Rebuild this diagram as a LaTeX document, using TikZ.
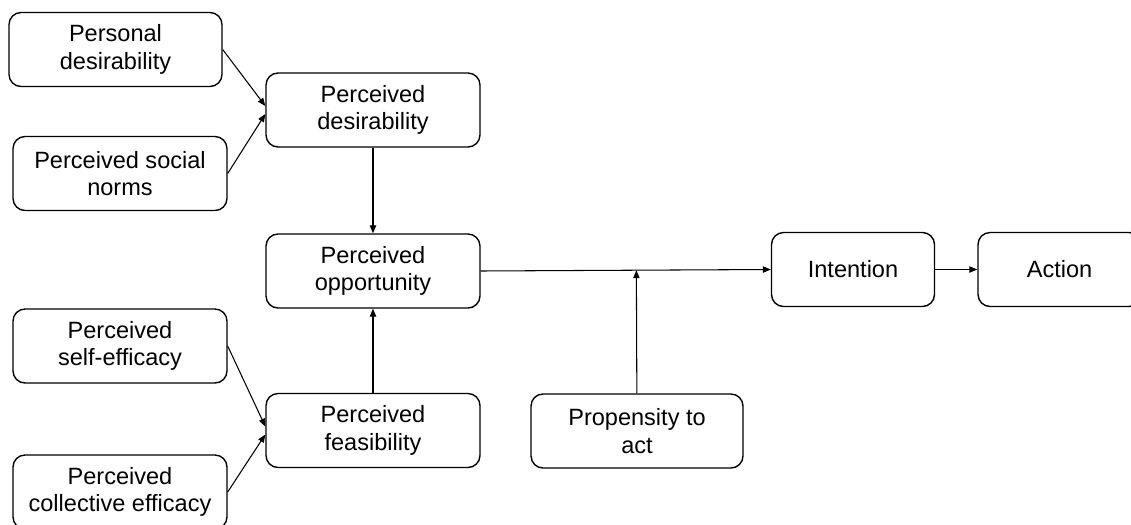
\documentclass[tikz,border=0pt]{standalone}
\usepackage{fontspec}
\setmainfont{Liberation Sans}
\usetikzlibrary{arrows.meta,calc}

\begin{document}
\begin{tikzpicture}[x=0.02cm,y=-0.02cm
	,>={Triangle[length=4.5pt,width=3.6pt]}
	,every edge/.style={draw,->,line width=0.6pt}
	,semithick]
  \tikzstyle{factor}=[draw,line width=0.8pt,rounded corners=0.24cm
	,align=center,inner sep=0pt
	,minimum width=4.28cm,minimum height=1.48cm
	,font=\fontsize{13.4}{15.5}\selectfont]

  \useasboundingbox (0,0) rectangle (1131,524);

  % left column: antecedents
  \node[factor,minimum width=4.26cm] (pdes) at (115.5,49.5) {Personal\\desirability};
  \node[factor] (psn) at (120,173.5) {Perceived social\\norms};
  \node[factor] (pse) at (120,346)   {Perceived\\self-efficacy};
  \node[factor] (pce) at (120,492)   {Perceived\\collective efficacy};
  % middle column
  \node[factor] (pd) at (373,110)   {Perceived\\desirability};
  \node[factor] (po) at (373,271)   {Perceived\\opportunity};
  \node[factor] (pf) at (373,430.5) {Perceived\\feasibility};
  % right part
  \node[factor,minimum width=4.24cm] (pta) at (637,431)     {Propensity to\\act};
  \node[factor,minimum width=3.26cm] (int) at (853,269.5)   {Intention};
  \node[factor,minimum width=3.26cm] (act) at (1059.5,269.5) {Action};

  % antecedents into desirability and feasibility
  \path (pdes.east) edge ([yshift=0.08cm]pd.west);
  \path (psn.east)  edge ([yshift=-0.08cm]pd.west);
  \path (pse.east)  edge ([yshift=0.08cm]pf.west);
  \path (pce.east)  edge ([yshift=-0.08cm]pf.west);
  % into opportunity
  \path (pd) edge (po);
  \path (pf) edge (po);
  % opportunity to intention, moderated by propensity
  \path (po.east) edge (int.west);
  \coordinate (j) at ($(po.east)!(pta.north)!(int.west)$);
  \path (pta) edge (j);
  \path (int) edge (act);
\end{tikzpicture}
\end{document}
